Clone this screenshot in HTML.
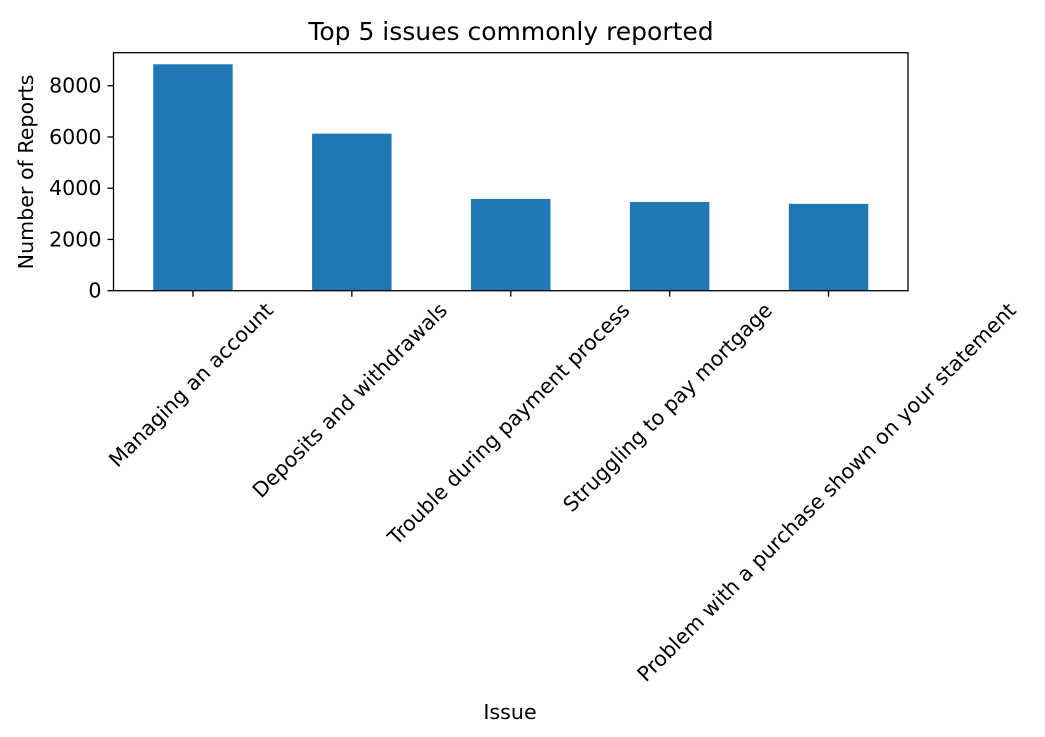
<!DOCTYPE html>
<html><head><meta charset="utf-8"><style>
html,body{margin:0;padding:0;background:#fff;}
svg{display:block;font-family:"DejaVu Sans","Liberation Sans",sans-serif;}
</style></head><body>
<svg id="chart" width="1045" height="737">
<text x="511" y="40" font-size="25" text-anchor="middle" fill="#000">Top 5 issues commonly reported</text>
<g id="bars"></g>
<g id="yticks"></g>
<g id="xticks"></g>
<rect x="113.5" y="52.7" width="794.5" height="238" fill="none" stroke="#000" stroke-width="1.3"/>
<text x="510" y="719" font-size="20.6" text-anchor="middle">Issue</text>
<text transform="translate(33,172) rotate(-90)" font-size="20.6" text-anchor="middle">Number of Reports</text>
</svg>
<script>
const categories=["Managing an account","Deposits and withdrawals","Trouble during payment process","Struggling to pay mortgage","Problem with a purchase shown on your statement"];
const values=[8835,6130,3580,3460,3390];
const yTicks=[0,2000,4000,6000,8000];
const NS="http://www.w3.org/2000/svg";
const plotLeft=113.5,plotRight=908,plotBottom=290.7;
const yScale=v=>plotBottom-v*(51.25/2000);
const step=(plotRight-plotLeft)/categories.length;
const xScale=i=>plotLeft+step*(i+0.5);
const bw=step*0.5;
const bars=document.getElementById('bars'),yt=document.getElementById('yticks'),xt=document.getElementById('xticks');
values.forEach((v,i)=>{
 const r=document.createElementNS(NS,'rect');
 r.setAttribute('x',xScale(i)-bw/2);r.setAttribute('y',yScale(v));r.setAttribute('width',bw);r.setAttribute('height',plotBottom-yScale(v));r.setAttribute('fill','#1f77b4');
 
 
 bars.appendChild(r);
});
yTicks.forEach(t=>{
 const l=document.createElementNS(NS,'line');
 l.setAttribute('x1',plotLeft-6);l.setAttribute('x2',plotLeft);l.setAttribute('y1',yScale(t));l.setAttribute('y2',yScale(t));l.setAttribute('stroke','#000');l.setAttribute('stroke-width','1.3');
 
 
 yt.appendChild(l);
 const tx=document.createElementNS(NS,'text');
 tx.setAttribute('x',plotLeft-12);tx.setAttribute('y',yScale(t)+7);tx.setAttribute('font-size','20.6');tx.setAttribute('text-anchor','end');tx.textContent=t;
 
 
 yt.appendChild(tx);
});
categories.forEach((c,i)=>{
 const l=document.createElementNS(NS,'line');
 l.setAttribute('x1',xScale(i));l.setAttribute('x2',xScale(i));l.setAttribute('y1',plotBottom);l.setAttribute('y2',plotBottom+6);l.setAttribute('stroke','#000');l.setAttribute('stroke-width','1.3');
 
 
 xt.appendChild(l);
 const tx=document.createElementNS(NS,'text');
 tx.setAttribute('font-size','20.6');tx.setAttribute('text-anchor','middle');tx.setAttribute('dominant-baseline','central');tx.textContent=c;
 
 
 xt.appendChild(tx);
 let w=c.length*11;
 try{w=tx.getComputedTextLength()||w;}catch(e){}
 const h=(w+8)*0.7071;
 tx.setAttribute('transform','translate('+(xScale(i)-2)+','+(plotBottom+13+h/2)+') rotate(-45)');
});
</script>
</body></html>
